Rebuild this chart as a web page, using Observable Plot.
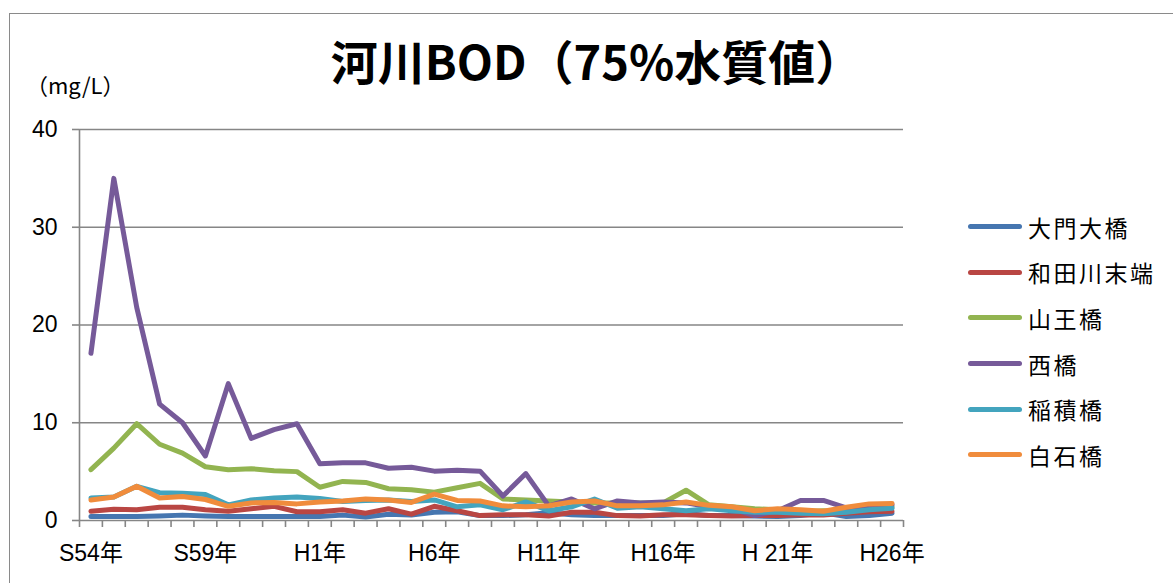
<!DOCTYPE html>
<html><head><meta charset="utf-8">
<script src="https://cdn.jsdelivr.net/npm/d3@7"></script>
<script src="https://cdn.jsdelivr.net/npm/@observablehq/plot@0.6"></script>
<style>
html,body{margin:0;padding:0;background:#fff;}
body{width:1173px;height:583px;position:relative;overflow:hidden;font-family:"Liberation Sans","Noto Sans CJK JP",sans-serif;}
#frame{position:absolute;left:9px;top:13px;width:1200px;height:600px;border-left:1.5px solid #8a8a8a;border-top:1.5px solid #8a8a8a;}
#chart{position:absolute;left:0;top:0;}
#title{position:absolute;left:0;top:33px;width:1193px;line-height:1.15;text-align:center;font-family:"Noto Sans CJK JP",sans-serif;font-weight:bold;font-size:47px;color:#000;white-space:nowrap;}
#unit{position:absolute;left:26px;top:68px;font-size:22px;color:#000;font-family:"Noto Sans CJK JP",sans-serif;}
#legend{position:absolute;left:968px;top:204px;}
.row{height:45.6px;display:flex;align-items:center;}
.sw{width:54px;height:5px;border-radius:3px;margin-right:6px;}
.lab{font-family:"Noto Sans CJK JP",sans-serif;font-size:23px;color:#000;letter-spacing:2.5px;}
</style></head>
<body>
<div id="frame"></div>
<div id="chart"></div>
<div id="title">河川BOD（75%水質値）</div>
<div id="unit">（mg/L）</div>
<div id="legend"></div>
<script>
const years = d3.range(1979, 2015);
const tickYears = [1979, 1984, 1989, 1994, 1999, 2004, 2009, 2014];
const tickLabels = ["S54年", "S59年", "H1年", "H6年", "H11年", "H16年", "H 21年", "H26年"];
const seriesNames = ["大門大橋", "和田川末端", "山王橋", "西橋", "稲積橋", "白石橋"];
const seriesColors = ["#4676B0", "#B94643", "#92B450", "#765A99", "#43A4BE", "#F08C3C"];

const daimonOhashi = [0.4,0.4,0.4,0.45,0.55,0.45,0.4,0.4,0.4,0.4,0.4,0.55,0.35,0.65,0.55,0.85,0.9,0.5,0.5,0.6,0.8,0.6,0.5,0.5,0.5,0.5,0.7,0.5,0.5,0.45,0.4,0.5,0.8,0.4,0.5,0.75];
const wadagawaMatan = [0.95,1.15,1.1,1.35,1.35,1.1,0.95,1.2,1.45,0.9,0.9,1.1,0.75,1.2,0.65,1.45,1.0,0.5,0.6,0.6,0.45,0.85,0.85,0.5,0.45,0.6,0.6,0.5,0.45,0.5,0.5,0.6,0.55,0.75,0.9,0.95];
const sannoBashi = [5.2,7.4,9.9,7.8,6.9,5.5,5.2,5.3,5.1,5.0,3.4,4.0,3.9,3.25,3.15,2.9,3.35,3.8,2.2,2.1,2.0,1.9,1.8,1.8,1.8,1.8,3.1,1.6,1.4,1.2,1.1,0.9,1.0,0.9,1.2,1.4];
const nishiBashi = [17.1,35.0,21.8,11.9,10.0,6.6,14.0,8.4,9.3,9.9,5.8,5.9,5.9,5.35,5.45,5.05,5.15,5.05,2.5,4.8,1.5,2.2,1.2,2.0,1.8,1.9,1.8,1.4,1.2,0.5,1.0,2.05,2.05,1.3,1.3,1.6];
const inazumiBashi = [2.3,2.4,3.5,2.85,2.8,2.65,1.6,2.1,2.3,2.4,2.25,1.95,2.05,2.1,1.95,2.1,1.4,1.6,1.1,1.9,1.0,1.4,2.2,1.25,1.4,1.2,1.0,1.2,1.0,0.85,0.85,0.75,0.7,0.85,1.1,1.25];
const shiraishiBashi = [2.1,2.4,3.5,2.3,2.45,2.15,1.45,1.8,1.85,1.7,1.9,2.0,2.2,2.1,1.85,2.7,2.05,2.0,1.5,1.4,1.5,1.9,2.0,1.5,1.5,1.6,1.9,1.55,1.4,1.0,1.2,1.1,0.95,1.35,1.7,1.75];

const seriesValues = [daimonOhashi, wadagawaMatan, sannoBashi, nishiBashi, inazumiBashi, shiraishiBashi];
const data = seriesNames.flatMap((name, s) => years.map((year, i) => ({name, year, value: seriesValues[s][i]})));
const boundaries = d3.range(1978.5, 2015.5, 1);
const gray = "#868686";

const plot = Plot.plot({
  width: 1173,
  height: 583,
  marginLeft: 79,
  marginRight: 270,
  marginTop: 129,
  marginBottom: 63,
  style: {fontFamily: '"Liberation Sans","Noto Sans CJK JP",sans-serif', fontSize: "23px", color: "#000", background: "transparent"},
  x: {type: "linear", domain: [1978.5, 2014.5]},
  y: {domain: [0, 40]},
  color: {domain: seriesNames, range: seriesColors},
  marks: [
    Plot.gridY([10, 20, 30, 40], {stroke: gray, strokeOpacity: 1, strokeWidth: 1.6}),
    Plot.ruleY([0], {stroke: gray, strokeWidth: 1.6}),
    Plot.ruleX([1978.5], {y1: 0, y2: 40, stroke: gray, strokeWidth: 1.6}),
    Plot.axisY({ticks: [0, 10, 20, 30, 40], tickSize: 7, tickPadding: 15, stroke: gray, strokeWidth: 1.6, fill: "#000", fontSize: 23, label: null}),
    Plot.axisX({ticks: boundaries, tickSize: 7, stroke: gray, strokeWidth: 1.6, tickFormat: () => "", label: null}),
    Plot.axisX({ticks: tickYears, tickSize: 0, tickPadding: 24, tickFormat: d => tickLabels[tickYears.indexOf(d)], fill: "#000", fontSize: 23, label: null}),
    Plot.lineY(data, {x: "year", y: "value", z: "name", stroke: "name", strokeWidth: 5, strokeLinejoin: "round", strokeLinecap: "round"})
  ]
});
document.getElementById("chart").appendChild(plot);

const legend = document.getElementById("legend");
seriesNames.forEach((n, i) => {
  const row = document.createElement("div");
  row.className = "row";
  const sw = document.createElement("div");
  sw.className = "sw";
  sw.style.background = seriesColors[i];
  const lab = document.createElement("span");
  lab.className = "lab";
  lab.textContent = n;
  row.appendChild(sw); row.appendChild(lab);
  legend.appendChild(row);
});
</script>
</body></html>
